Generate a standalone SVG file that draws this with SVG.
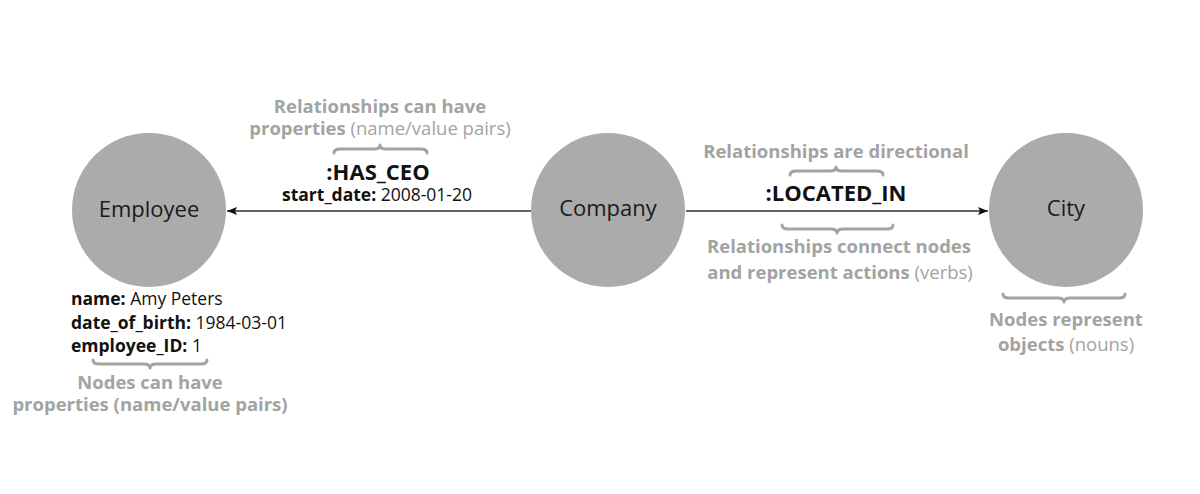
<svg xmlns="http://www.w3.org/2000/svg" width="1200" height="494" viewBox="0 0 1200 494">
<style>
.node{fill:#ababab}
.nl{font-family:"Open Sans",sans-serif;font-size:22px;fill:#1a1a1a;text-anchor:middle}
.ann{font-family:"Open Sans",sans-serif;font-size:18.5px;fill:#a3a3a3;text-anchor:middle}
.b{font-weight:bold}
.rel{font-family:"Open Sans",sans-serif;font-size:22px;font-weight:bold;fill:#111;text-anchor:middle}
.prop{font-family:"Open Sans",sans-serif;font-size:17.5px;fill:#111}
.brace{fill:none;stroke:#a3a3a3;stroke-width:3;stroke-linecap:round;stroke-linejoin:round}
.edge{stroke:#333;stroke-width:1.3;fill:none}
</style>
<defs>
<marker id="arr" viewBox="0 0 10 8" refX="10" refY="4" markerWidth="10" markerHeight="8" markerUnits="userSpaceOnUse" orient="auto">
<path d="M0,0 L10,4 L0,8 L2,4 Z" fill="#111"/>
</marker>
</defs>
<rect width="1200" height="494" fill="#fff"/>
<g id="connectors">
<line class="edge" x1="531" y1="211" x2="227" y2="211" marker-end="url(#arr)"/>
<line class="edge" x1="686" y1="211" x2="988" y2="211" marker-end="url(#arr)"/>
</g>
<g id="employee">
<circle class="node" cx="149" cy="210" r="77"/>
<text class="nl" x="149" y="217">Employee</text>
</g>
<g id="company">
<circle class="node" cx="608" cy="210" r="77"/>
<text class="nl" x="608" y="216">Company</text>
</g>
<g id="city">
<circle class="node" cx="1066" cy="210" r="77"/>
<text class="nl" x="1066" y="216">City</text>
</g>
<g id="has-ceo-label">
<text class="rel" x="378" y="180">:HAS_CEO</text>
<text class="prop" x="377" y="201" text-anchor="middle"><tspan class="b">start_date:</tspan> 2008-01-20</text>
</g>
<g id="located-in-label">
<text class="rel" x="836" y="201">:LOCATED_IN</text>
</g>
<g id="employee-props">
<text class="prop" x="71" y="305"><tspan class="b">name:</tspan> Amy Peters</text>
<text class="prop" x="71" y="329"><tspan class="b">date_of_birth:</tspan> 1984-03-01</text>
<text class="prop" x="71" y="352"><tspan class="b">employee_ID:</tspan> 1</text>
</g>
<g id="annotations">
<text class="ann b" x="380" y="113">Relationships can have</text>
<text class="ann" x="380" y="135"><tspan class="b">properties</tspan> (name/value pairs)</text>
<text class="ann b" x="836" y="158">Relationships are directional</text>
<text class="ann b" x="839" y="253">Relationships connect nodes</text>
<text class="ann" x="840" y="279"><tspan class="b">and represent actions</tspan> (verbs)</text>
<text class="ann b" x="1066" y="326">Nodes represent</text>
<text class="ann" x="1066" y="351"><tspan class="b">objects</tspan> (nouns)</text>
<text class="ann b" x="150" y="389">Nodes can have</text>
<text class="ann b" x="150" y="411">properties (name/value pairs)</text>
</g>
<g id="braces">
<path class="brace" d="M334,153 Q334,149 340,149 L374,149 Q380,149 380,145 Q380,149 386,149 L421,149 Q427,149 427,153"/>
<path class="brace" d="M790,175 Q790,171 796,171 L830,171 Q836,171 836,167 Q836,171 842,171 L877,171 Q883,171 883,175"/>
<path class="brace" d="M782,225 Q782,229 788,229 L831,229 Q837,229 837,233 Q837,229 843,229 L887,229 Q893,229 893,225"/>
<path class="brace" d="M93,360 Q93,364 99,364 L144,364 Q150,364 150,368 Q150,364 156,364 L201,364 Q207,364 207,360"/>
<path class="brace" d="M1003,294 Q1003,298 1009,298 L1058,298 Q1064,298 1064,302 Q1064,298 1070,298 L1119,298 Q1125,298 1125,294"/>
</g>
</svg>
